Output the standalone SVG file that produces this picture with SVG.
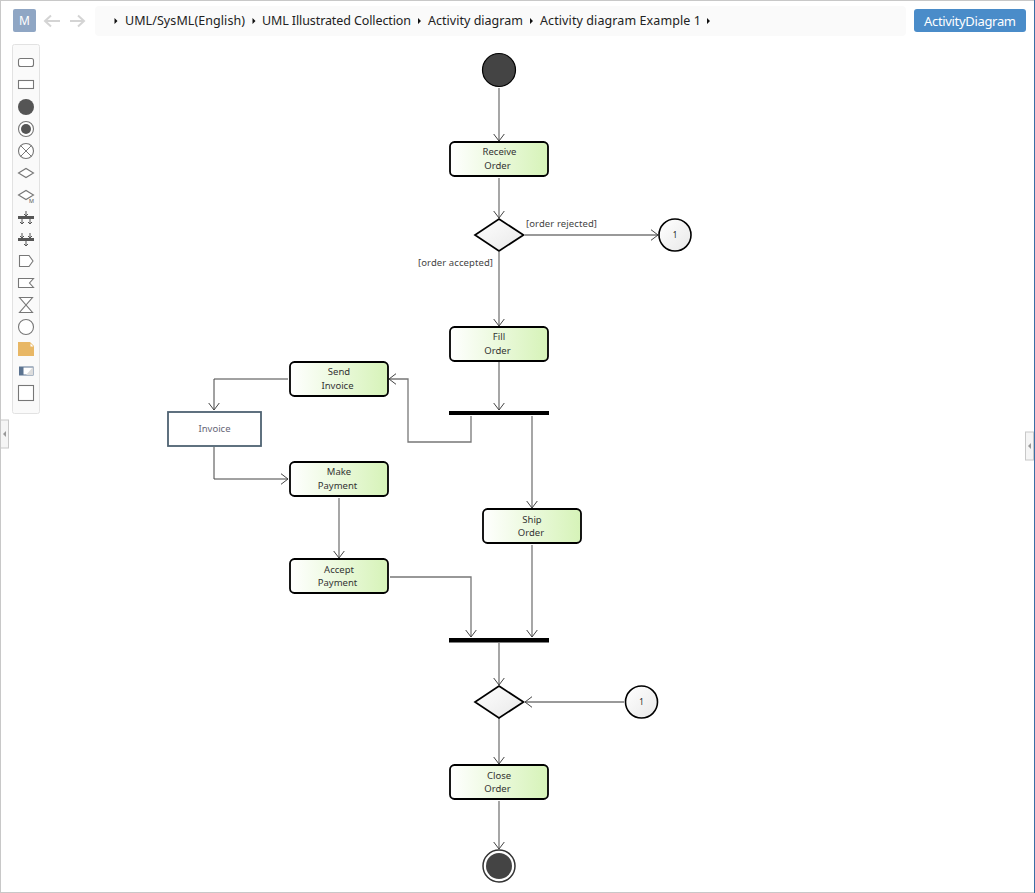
<svg xmlns="http://www.w3.org/2000/svg" width="1035" height="893" viewBox="0 0 1035 893">
<defs>
<linearGradient id="g" x1="0" x2="1" y1="0" y2="0"><stop offset="0" stop-color="#fff"/><stop offset="1" stop-color="#d6f3b8"/></linearGradient>
<linearGradient id="d" x1="0" x2="1" y1="0" y2="1"><stop offset="0" stop-color="#fff"/><stop offset="1" stop-color="#e8e8e8"/></linearGradient>
<marker id="a" markerUnits="userSpaceOnUse" markerWidth="18" markerHeight="18" refX="13" refY="8" orient="auto"><path d="M6 2.700L13 8L6 13.300" fill="none" stroke="#444" stroke-width="1"/></marker>
</defs>
<style>
text{font-family:"Noto Sans","Liberation Sans",sans-serif}
.act{fill:url(#g);stroke:#000;stroke-width:1.8}
.t{font-size:9.5px;fill:#333;text-anchor:middle}
.l{font-size:9.5px;fill:#444}
.c{fill:none;stroke:#777;stroke-width:1.3}
.cd{fill:none;stroke:#444;stroke-width:1}
.crumb{font-size:12.5px;fill:#222}
.ic{fill:#fff;stroke:#777;stroke-width:1.1}
.tri{fill:#111}
.bar{fill:#000}
.dia{fill:url(#d);stroke:#000;stroke-width:1.7}
.i{fill:#555}
</style>
<rect x="0.5" y="0.5" width="1034" height="892" fill="#fff" stroke="#c8c8c8"/>
<path d="M1034.5 0V893" stroke="#3a6ea5" fill="none"/>
<g id="toolbar-top">
<rect x="13" y="9" width="23" height="23" rx="2" fill="#8fa6c4"/>
<text x="24.500" y="25" font-size="12" fill="#fff" text-anchor="middle">M</text>
<path d="M60 21H45M51 15.500L45 21L51 26.500M70 21H84M78 15.500L84 21L78 26.500" fill="none" stroke="#d4d4d4" stroke-width="2"/>
<rect x="95" y="6" width="811" height="30" rx="4" fill="#fafafa"/>
<path class="tri" d="M114.500 18l3 3l-3 3zM252.500 18l3 3l-3 3zM418 18l3 3l-3 3zM530 18l3 3l-3 3zM707 18l3 3l-3 3z"/>
<text class="crumb" x="125" y="25" textLength="120">UML/SysML(English)</text>
<text class="crumb" x="262" y="25" textLength="149">UML Illustrated Collection</text>
<text class="crumb" x="428" y="25" textLength="95">Activity diagram</text>
<text class="crumb" x="540" y="25" textLength="161">Activity diagram Example 1</text>
<rect x="914" y="9" width="112" height="23" rx="3" fill="#4a8cc9"/>
<text x="970" y="26" font-size="13" fill="#fff" text-anchor="middle" textLength="92">ActivityDiagram</text>
</g>
<g id="palette">
<rect x="12.500" y="44.500" width="27" height="369" rx="2" fill="#fafafa" stroke="#e2e2e2"/>
<rect class="ic" x="18.500" y="58.500" width="15" height="8" rx="2"/>
<rect class="ic" x="18.500" y="80.500" width="15" height="8"/>
<circle class="i" cx="26" cy="107" r="8"/>
<circle class="ic" cx="26" cy="129" r="7.500"/><circle class="i" cx="26" cy="129" r="5"/>
<circle class="ic" cx="26" cy="151" r="7.500"/><path d="M20.700 145.700L31.300 156.300M31.300 145.700L20.700 156.300" stroke="#777"/>
<path class="ic" d="M18.500 173L26 168.500L33.500 173L26 177.500Z"/>
<path class="ic" d="M18.500 195L26 190.500L33.500 195L26 199.500Z"/>
<text x="29" y="203" font-size="5.500" fill="#555">M</text>
<rect class="i" x="18" y="216" width="16" height="3"/>
<path d="M26 211V216M24 214L26 216L28 214M22 219V224M20 222L22 224L24 222M30 219V224M28 222L30 224L32 222" fill="none" stroke="#555" stroke-width="1"/>
<rect class="i" x="18" y="238" width="16" height="3"/>
<path d="M22 233V238M20 236L22 238L24 236M30 233V238M28 236L30 238L32 236M26 241V246M24 244L26 246L28 244" fill="none" stroke="#555" stroke-width="1"/>
<path class="ic" d="M19.500 255.500H29L33 261L29 266.500H19.500Z"/>
<path class="ic" d="M18.500 278.500H33.500L29.500 283L33.500 287.500H18.500Z"/>
<path class="ic" d="M19.500 297.500H32.500L19.500 312.500H32.500Z"/>
<circle class="ic" cx="26" cy="327" r="7.500"/>
<path d="M18 342H30L34 346V356H18Z" fill="#e8b765"/><path d="M30.500 343.500L33.500 346.500H30.500Z" fill="#fff"/>
<rect x="19.500" y="367" width="13.500" height="8" fill="#fff" stroke="#5b7390"/><rect x="19.500" y="367" width="4" height="8" fill="#5b7390"/>
<path d="M26 375L33 367V375Z" fill="#ddd"/>
<rect class="ic" x="18.500" y="385.500" width="15" height="15"/>
</g>
<g id="side-handles">
<rect x="0.500" y="420" width="8" height="28" fill="#f5f5f5" stroke="#c8c8c8"/><path d="M3 434L6 431V437Z" fill="#999"/>
<rect x="1025.500" y="432" width="8" height="28" fill="#f5f5f5" stroke="#c8c8c8"/><path d="M1028 446L1031 443V449Z" fill="#999"/>
</g>
<g id="connectors">
<path class="c" marker-end="url(#a)" d="M499 88V141"/>
<path class="c" marker-end="url(#a)" d="M499 178V218"/>
<path class="c" marker-end="url(#a)" d="M525 235H658"/>
<path class="c" marker-end="url(#a)" d="M499 252V326"/>
<path class="c" marker-end="url(#a)" d="M499 362V410"/>
<path class="c" marker-end="url(#a)" d="M471 416V442H408V379H389"/>
<path class="c" marker-end="url(#a)" d="M532 416V508"/>
<path class="cd" marker-end="url(#a)" d="M288 379H214V410"/>
<path class="cd" marker-end="url(#a)" d="M214 447V479H288"/>
<path class="c" marker-end="url(#a)" d="M339 498V558"/>
<path class="c" marker-end="url(#a)" d="M390 577H471V637"/>
<path class="c" marker-end="url(#a)" d="M532 545V637"/>
<path class="c" marker-end="url(#a)" d="M499 643V685"/>
<path class="c" marker-end="url(#a)" d="M624 702H525"/>
<path class="c" marker-end="url(#a)" d="M499 718V764"/>
<path class="c" marker-end="url(#a)" d="M499 801V849"/>
</g>
<g id="start"><circle cx="499" cy="70" r="16.500" fill="#444" stroke="#000" stroke-width="1.2"/></g>
<g id="receive-order"><rect class="act" x="450" y="142" width="98" height="34" rx="4.500"/><text class="t" x="499.500" y="155">Receive</text><text class="t" x="497.500" y="169">Order</text></g>
<g id="decision-1"><path class="dia" d="M499 219L523.500 235L499 251L475 235Z"/></g>
<text class="l" x="526" y="227" textLength="71">[order rejected]</text>
<text class="l" x="418" y="266" textLength="75">[order accepted]</text>
<g id="connector-1a"><circle cx="675" cy="235" r="16" fill="url(#d)" stroke="#000" stroke-width="1.6"/><text class="t" x="675" y="238" style="font-size:8px;fill:#222">1</text></g>
<g id="fill-order"><rect class="act" x="450" y="327" width="98" height="34" rx="4.500"/><text class="t" x="499" y="340">Fill</text><text class="t" x="497.500" y="354">Order</text></g>
<g id="fork"><rect class="bar" x="449" y="411" width="100" height="4"/></g>
<g id="send-invoice"><rect class="act" x="290" y="362" width="98" height="34" rx="4.500"/><text class="t" x="339" y="375">Send</text><text class="t" x="337.500" y="389">Invoice</text></g>
<g id="invoice"><rect x="168" y="412" width="93" height="34" fill="#fff" stroke="#4e6272" stroke-width="1.8"/><text class="t" x="214.500" y="432" style="fill:#667">Invoice</text></g>
<g id="make-payment"><rect class="act" x="290" y="462" width="98" height="34" rx="4.500"/><text class="t" x="339" y="475">Make</text><text class="t" x="337.500" y="489">Payment</text></g>
<g id="ship-order"><rect class="act" x="483" y="509" width="98" height="34" rx="4.500"/><text class="t" x="532" y="523">Ship</text><text class="t" x="531" y="536">Order</text></g>
<g id="accept-payment"><rect class="act" x="290" y="559" width="98" height="34" rx="4.500"/><text class="t" x="339" y="573">Accept</text><text class="t" x="337.500" y="586">Payment</text></g>
<g id="join"><rect class="bar" x="449" y="638" width="100" height="4.500"/></g>
<g id="decision-2"><path class="dia" d="M499 686L523.500 702L499 718L475 702Z"/></g>
<g id="connector-1b"><circle cx="641.500" cy="702" r="16" fill="url(#d)" stroke="#000" stroke-width="1.6"/><text class="t" x="641.500" y="705" style="font-size:8px;fill:#222">1</text></g>
<g id="close-order"><rect class="act" x="450" y="765" width="98" height="34" rx="4.500"/><text class="t" x="499" y="779">Close</text><text class="t" x="497.500" y="792">Order</text></g>
<g id="end"><circle cx="499" cy="866" r="16" fill="#fff" stroke="#333" stroke-width="1.5"/><circle cx="499" cy="866" r="13" fill="#444"/></g>
</svg>
